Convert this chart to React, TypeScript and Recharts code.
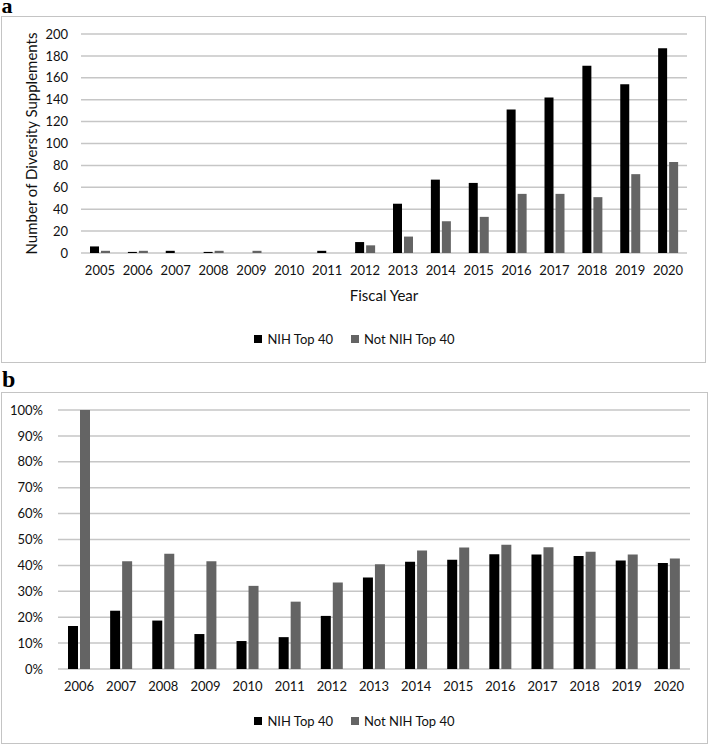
import React from 'react';
import { BarChart, Bar, XAxis, YAxis, CartesianGrid, Legend } from 'recharts';

// Panel a: number of diversity supplements
const yearsA = ['2005', '2006', '2007', '2008', '2009', '2010', '2011', '2012', '2013', '2014', '2015', '2016', '2017', '2018', '2019', '2020'];
const nihTop40Counts = [6, 1, 2, 1, 0, 0, 2, 10, 45, 67, 64, 131, 142, 171, 154, 187];
const notNihTop40Counts = [2, 2, 0, 2, 2, 0, 0, 7, 15, 29, 33, 54, 54, 51, 72, 83];
const countTicks = [0, 20, 40, 60, 80, 100, 120, 140, 160, 180, 200];

// Panel b: percentage
const yearsB = ['2006', '2007', '2008', '2009', '2010', '2011', '2012', '2013', '2014', '2015', '2016', '2017', '2018', '2019', '2020'];
const nihTop40Pct = [16.6, 22.5, 18.7, 13.5, 10.8, 12.3, 20.5, 35.3, 41.4, 42.2, 44.3, 44.2, 43.6, 41.9, 40.9];
const notNihTop40Pct = [100, 41.6, 44.5, 41.6, 32.1, 26.0, 33.4, 40.4, 45.8, 46.9, 48.0, 47.0, 45.3, 44.2, 42.7];
const pctTicks = [0, 10, 20, 30, 40, 50, 60, 70, 80, 90, 100];

const seriesNames = ['NIH Top 40', 'Not NIH Top 40'];

const dataA = yearsA.map((y, i) => ({ year: y, nih: nihTop40Counts[i], notNih: notNihTop40Counts[i] }));
const dataB = yearsB.map((y, i) => ({ year: y, nih: nihTop40Pct[i], notNih: notNihTop40Pct[i] }));

const FONT = 'Lato, "Open Sans", sans-serif';
const TEXT = '#111111';
const GRID = '#c6c6c6';
const BLACK = '#000000';
const GRAY = '#646464';

const renderLegend = (props: any) => {
  const payload = props.payload || [];
  return (
    <div
      style={{
        display: 'flex',
        justifyContent: 'center',
        alignItems: 'center',
        height: 20,
        fontFamily: FONT,
        fontSize: 13,
        color: TEXT,
      }}
    >
      {payload.map((e: any, i: number) => (
        <span key={i} style={{ display: 'flex', alignItems: 'center', marginLeft: i ? 18 : 0 }}>
          <span style={{ display: 'inline-block', width: 8, height: 8, background: e.color, marginRight: 5 }} />
          {e.value}
        </span>
      ))}
    </div>
  );
};

const tickStyle = { fontFamily: FONT, fontSize: 13, fill: TEXT };

export default function App() {
  return (
    <div style={{ position: 'absolute', left: 0, top: 0, width: 709, height: 745, background: '#fff' }}>
      <div
        style={{
          position: 'absolute',
          left: 1,
          top: 16,
          width: 705,
          height: 347,
          boxSizing: 'border-box',
          border: '1.5px solid #c4c4c4',
        }}
      />
      <div
        style={{
          position: 'absolute',
          left: 1,
          top: 392,
          width: 707,
          height: 352,
          boxSizing: 'border-box',
          border: '1.5px solid #c4c4c4',
        }}
      />
      <svg width={709} height={745} style={{ position: 'absolute', left: 0, top: 0 }}>
        <text x={1.5} y={12.5} fontFamily='"Liberation Serif", serif' fontWeight="bold" fontSize={22} fill="#000">
          a
        </text>
        <text x={2} y={386.7} fontFamily='"Liberation Serif", serif' fontWeight="bold" fontSize={24} fill="#000">
          b
        </text>
      </svg>

      <div style={{ position: 'absolute', left: 0, top: 0 }}>
        <BarChart
          width={709}
          height={363}
          data={dataA}
          margin={{ top: 34, right: 22, bottom: 30, left: 21 }}
          barSize={9}
          barGap={2}
        >
          <CartesianGrid vertical={false} stroke={GRID} strokeWidth={1.5} />
          <XAxis
            dataKey="year"
            interval={0}
            axisLine={false}
            tickLine={false}
            tickSize={0}
            tickMargin={13}
            height={60}
            tick={tickStyle}
            label={{
              value: 'Fiscal Year',
              position: 'insideBottom',
              offset: 12,
              style: { fontFamily: FONT, fontSize: 15, fill: TEXT },
            }}
          />
          <YAxis
            domain={[0, 200]}
            ticks={countTicks}
            interval={0}
            axisLine={false}
            tickLine={false}
            tickSize={0}
            tickMargin={13}
            width={60}
            tick={tickStyle}
            label={{
              value: 'Number of Diversity Supplements',
              angle: -90,
              position: 'insideLeft',
              offset: 10.5,
              style: { textAnchor: 'middle', fontFamily: FONT, fontSize: 15, fill: TEXT },
            }}
          />
          <Legend content={renderLegend} wrapperStyle={{ top: 329, left: 0, width: 709 }} />
          <Bar dataKey="nih" name={seriesNames[0]} fill={BLACK} isAnimationActive={false} />
          <Bar dataKey="notNih" name={seriesNames[1]} fill={GRAY} isAnimationActive={false} />
        </BarChart>
      </div>

      <div style={{ position: 'absolute', left: 0, top: 392 }}>
        <BarChart
          width={709}
          height={353}
          data={dataB}
          margin={{ top: 18, right: 19, bottom: 16, left: 8 }}
          barSize={10}
          barGap={2}
        >
          <CartesianGrid vertical={false} stroke={GRID} strokeWidth={1.5} />
          <XAxis
            dataKey="year"
            interval={0}
            axisLine={false}
            tickLine={false}
            tickSize={0}
            tickMargin={13}
            height={40}
            tick={tickStyle}
          />
          <YAxis
            domain={[0, 100]}
            ticks={pctTicks}
            interval={0}
            axisLine={false}
            tickLine={false}
            tickSize={0}
            tickMargin={15}
            width={50}
            tick={tickStyle}
            tickFormatter={(v: number) => `${v}%`}
          />
          <Legend content={renderLegend} wrapperStyle={{ top: 318.5, left: 0, width: 709 }} />
          <Bar dataKey="nih" name={seriesNames[0]} fill={BLACK} isAnimationActive={false} />
          <Bar dataKey="notNih" name={seriesNames[1]} fill={GRAY} isAnimationActive={false} />
        </BarChart>
      </div>
    </div>
  );
}
